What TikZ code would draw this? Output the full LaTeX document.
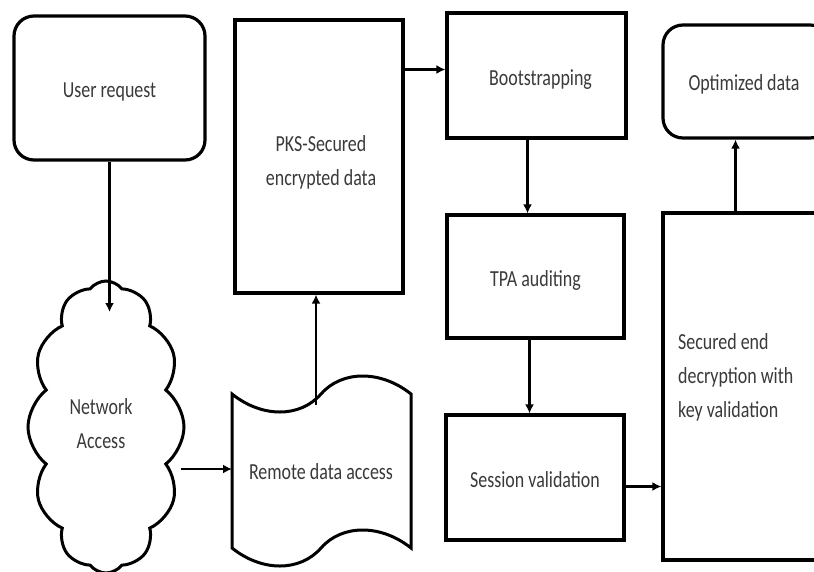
\documentclass[tikz,border=0pt]{standalone}
\usepackage{fontspec}
\setmainfont{Carlito}[FakeStretch=0.78]
\usepackage{xcolor}
\usetikzlibrary{arrows.meta,calc,shapes.symbols}

\definecolor{txtgray}{HTML}{3A3A3A}

\tikzset{
  box/.style={draw, line width=3.2pt, rectangle, inner sep=0pt},
  roundbox/.style={box, rounded corners=20pt},
  lbl/.style={text=txtgray, font=\fontsize{23}{34}\selectfont, align=center, inner sep=0pt},
  arr/.style={line width=2.8pt, -{Latex[length=9pt,width=9pt]}},
}

\begin{document}
\begin{tikzpicture}[x=1pt,y=-1pt]
\useasboundingbox (0,0) rectangle (814,571);

% left column
\node[roundbox, minimum width=191pt, minimum height=144pt] (user) at (109.5,88) {};
\node[lbl] (usertxt) at ([yshift=-4pt]user) {User request};
\node[cloud, draw, line width=3pt, cloud puffs=12, cloud puff arc=105, cloud ignores aspect,
  minimum width=156pt, minimum height=292pt] (net) at (106,427) {};
\node[lbl] (nettxt) at (101,424) {Network\\Access};

% tape
\draw[line width=3pt] (232,394) .. controls (262,418) and (300,418) .. (321,394)
  .. controls (342,370) and (381,370) .. (411,394) -- (411,548)
  .. controls (381,524) and (342,524) .. (321,548)
  .. controls (300,572) and (262,572) .. (232,548) -- cycle;
\node[lbl] (remote) at (321,472) {Remote data access};
\coordinate (remotein) at (232,469);
\coordinate (remotetop) at (316,405);

% middle columns
\node[box, minimum width=168pt, minimum height=273pt] (pks) at (319,156.5) {};
\node[lbl] (pkstxt) at (321,162) {PKS-Secured\\encrypted data};
\node[box, minimum width=179pt, minimum height=125pt] (boot) at (536.5,75.5) {};
\node[lbl] (boottxt) at ([xshift=4pt,yshift=-4pt]boot) {Bootstrapping};
\node[box, minimum width=177pt, minimum height=123pt] (tpa) at (535.5,276.5) {};
\node[lbl] (tpatxt) at ([yshift=-4pt]tpa) {TPA auditing};
\node[box, minimum width=178pt, minimum height=125pt] (session) at (535,477.5) {};
\node[lbl] (sessiontxt) at ([yshift=-2pt]session) {Session validation};

% right column
\node[roundbox, minimum width=167pt, minimum height=113pt] (opt) at (746.5,81.5) {};
\node[lbl] (opttxt) at (744,84) {Optimized data};
\node[box, minimum width=167pt, minimum height=347pt] (secured) at (746.5,386.5) {};
\node[lbl, align=left, anchor=west] (securedtxt) at (678,377) {Secured end\\decryption with\\key validation};

% connectors
\coordinate (nettop) at (109.5,312);
\coordinate (netout) at (181,469);
\draw[arr] (user.south) -- (nettop);
\draw[arr] (netout) -- (remotein);
\draw[arr] (remotetop) -- (remotetop |- pks.south);
\draw[arr] ([yshift=6pt]pks.east |- boot.west) -- ([yshift=6pt]boot.west);
\draw[arr] ([xshift=-9pt]boot.south) -- ([xshift=-9pt]boot.south |- tpa.north);
\draw[arr] ([xshift=-6pt]tpa.south) -- ([xshift=-6pt]tpa.south |- session.north);
\draw[arr] ([yshift=-9pt]session.east) -- ([yshift=-9pt]session.east -| secured.west);
\draw[arr] ([xshift=-11pt]secured.north) -- ([xshift=-11pt]secured.north |- opt.south);

\end{tikzpicture}
\end{document}
